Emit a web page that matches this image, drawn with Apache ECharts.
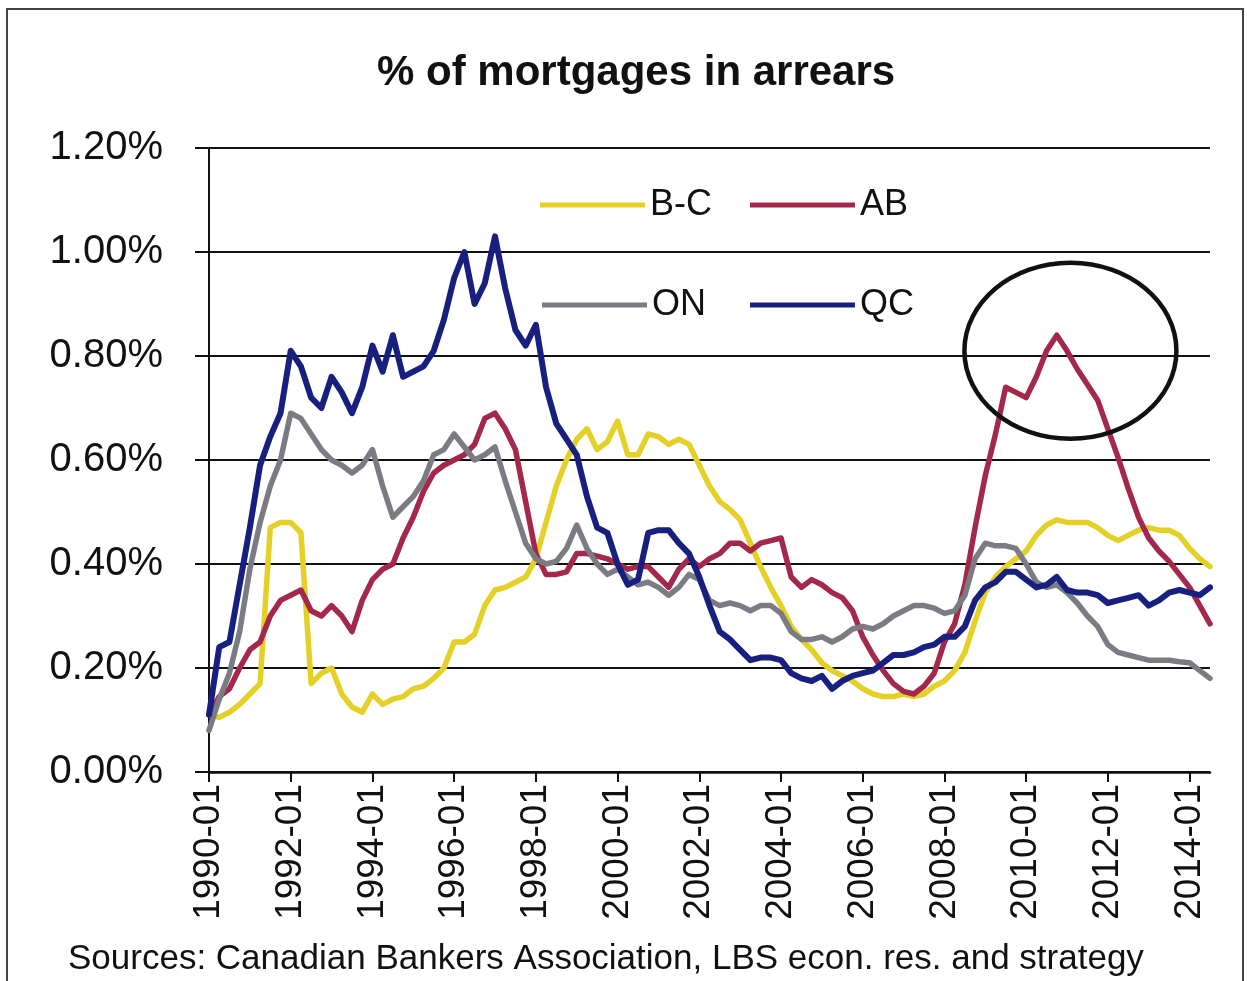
<!DOCTYPE html>
<html>
<head>
<meta charset="utf-8">
<title>% of mortgages in arrears</title>
<script src="https://cdn.jsdelivr.net/npm/echarts@6/dist/echarts.min.js"></script>
<style>
  html, body { margin: 0; padding: 0; background: #ffffff; }
  #chart { width: 1247px; height: 981px; }
</style>
</head>
<body>
<div id="chart"></div>
<script>
// Monthly axis 1990-01 .. 2014-07; series sampled quarterly (every 3rd month)
const firstYear = 1990;
const lastMonthLabel = '2014-07';
const sampleStep = 3;

const seriesNames = ['B-C', 'AB', 'ON', 'QC'];
const seriesColors = ['#e4d027', '#a3284c', '#7b7b84', '#17207f'];
const seriesWidths = [5.5, 5.5, 5.5, 6];

// % of mortgages in arrears, quarterly samples from 1990-01
const bcValues = [
  0.11, 0.105, 0.115, 0.13, 0.15, 0.17, 0.47, 0.48, 0.48, 0.46,
  0.17, 0.19, 0.20, 0.15, 0.125, 0.115, 0.15, 0.13, 0.14, 0.145,
  0.16, 0.165, 0.18, 0.20, 0.25, 0.25, 0.265, 0.32, 0.35, 0.355,
  0.365, 0.375, 0.41, 0.48, 0.55, 0.60, 0.64, 0.66, 0.62, 0.635,
  0.675, 0.61, 0.61, 0.65, 0.645, 0.63, 0.64, 0.63, 0.59, 0.55,
  0.52, 0.505, 0.485, 0.44, 0.395, 0.355, 0.32, 0.28, 0.255, 0.235,
  0.21, 0.195, 0.185, 0.175, 0.16, 0.15, 0.145, 0.145, 0.15, 0.145,
  0.15, 0.165, 0.175, 0.195, 0.23, 0.29, 0.345, 0.375, 0.395, 0.41,
  0.425, 0.455, 0.475, 0.485, 0.48, 0.48, 0.48, 0.47, 0.455, 0.445,
  0.455, 0.465, 0.47, 0.465, 0.465, 0.455, 0.43, 0.41, 0.395
];
const abValues = [
  0.11, 0.145, 0.16, 0.20, 0.235, 0.25, 0.30, 0.33, 0.34, 0.35,
  0.31, 0.30, 0.32, 0.30, 0.27, 0.33, 0.37, 0.39, 0.40, 0.45,
  0.49, 0.54, 0.575, 0.59, 0.60, 0.61, 0.63, 0.68, 0.69, 0.66,
  0.62, 0.52, 0.42, 0.38, 0.38, 0.385, 0.42, 0.42, 0.415, 0.41,
  0.40, 0.39, 0.395, 0.395, 0.375, 0.355, 0.39, 0.41, 0.395, 0.41,
  0.42, 0.44, 0.44, 0.425, 0.44, 0.445, 0.45, 0.375, 0.355, 0.37,
  0.36, 0.345, 0.335, 0.31, 0.26, 0.225, 0.195, 0.17, 0.155, 0.15,
  0.165, 0.19, 0.25, 0.285, 0.36, 0.47, 0.57, 0.65, 0.74, 0.73,
  0.72, 0.76, 0.81, 0.84, 0.81, 0.775, 0.745, 0.715, 0.66, 0.605,
  0.545, 0.49, 0.45, 0.425, 0.405, 0.38, 0.355, 0.32, 0.285
];
const onValues = [
  0.08, 0.14, 0.19, 0.27, 0.39, 0.48, 0.55, 0.60, 0.69, 0.68,
  0.65, 0.62, 0.60, 0.59, 0.575, 0.59, 0.62, 0.55, 0.49, 0.51,
  0.53, 0.56, 0.61, 0.62, 0.65, 0.625, 0.60, 0.61, 0.625, 0.56,
  0.50, 0.44, 0.41, 0.40, 0.405, 0.43, 0.475, 0.43, 0.40, 0.38,
  0.39, 0.375, 0.36, 0.365, 0.355, 0.34, 0.355, 0.38, 0.37, 0.33,
  0.32, 0.325, 0.32, 0.31, 0.32, 0.32, 0.305, 0.27, 0.255, 0.255,
  0.26, 0.25, 0.26, 0.275, 0.28, 0.275, 0.285, 0.30, 0.31, 0.32,
  0.32, 0.315, 0.305, 0.31, 0.34, 0.41, 0.44, 0.435, 0.435, 0.43,
  0.40, 0.365, 0.355, 0.36, 0.345, 0.325, 0.30, 0.28, 0.245, 0.23,
  0.225, 0.22, 0.215, 0.215, 0.215, 0.212, 0.21, 0.195, 0.18
];
const qcValues = [
  0.11, 0.24, 0.25, 0.36, 0.47, 0.59, 0.645, 0.69, 0.81, 0.78,
  0.72, 0.70, 0.76, 0.73, 0.69, 0.74, 0.82, 0.77, 0.84, 0.76,
  0.77, 0.78, 0.81, 0.87, 0.95, 1.00, 0.90, 0.94, 1.03, 0.93,
  0.85, 0.82, 0.86, 0.74, 0.67, 0.64, 0.61, 0.53, 0.47, 0.46,
  0.40, 0.36, 0.37, 0.46, 0.465, 0.465, 0.44, 0.42, 0.375, 0.32,
  0.27, 0.255, 0.235, 0.215, 0.22, 0.22, 0.215, 0.19, 0.18, 0.175,
  0.185, 0.16, 0.175, 0.185, 0.19, 0.195, 0.21, 0.225, 0.225, 0.23,
  0.24, 0.245, 0.26, 0.26, 0.28, 0.33, 0.355, 0.365, 0.385, 0.385,
  0.37, 0.355, 0.36, 0.375, 0.35, 0.345, 0.345, 0.34, 0.325, 0.33,
  0.335, 0.34, 0.32, 0.33, 0.345, 0.35, 0.345, 0.34, 0.355
];

const yTicks = [0, 0.2, 0.4, 0.6, 0.8, 1.0, 1.2];

// month categories
const months = [];
for (let y = firstYear; ; y++) {
  let done = false;
  for (let m = 1; m <= 12; m++) {
    const label = y + '-' + (m < 10 ? '0' + m : m);
    months.push(label);
    if (label === lastMonthLabel) { done = true; break; }
  }
  if (done) break;
}

// spread quarterly samples over the monthly category axis
function toMonthly(values) {
  const out = new Array(months.length).fill(null);
  values.forEach((v, i) => { out[i * sampleStep] = v; });
  return out;
}

const allValues = [bcValues, abValues, onValues, qcValues];
const FONT = '"Liberation Sans", Arial, sans-serif';

const chart = echarts.init(document.getElementById('chart'), null, { renderer: 'canvas' });

const legendPos = [
  { left: 535, top: 182 },
  { left: 745, top: 182 },
  { left: 537, top: 282 },
  { left: 745, top: 282 }
];

const frame = {
  type: 'rect',
  shape: { x: 7, y: 9, width: 1236, height: 1000 },
  style: { fill: 'none', stroke: '#444', lineWidth: 2 },
  silent: true
};
const sourceNote = {
  type: 'text',
  left: 68,
  top: 942,
  style: {
    text: 'Sources: Canadian Bankers Association, LBS econ. res. and strategy',
    font: '35px ' + FONT,
    fill: '#111'
  }
};

const option = {
  backgroundColor: '#ffffff',
  animation: false,
  title: {
    text: '% of mortgages in arrears',
    left: 372,
    top: 47,
    textStyle: { fontFamily: FONT, fontSize: 42, fontWeight: 'bold', color: '#111' }
  },
  legend: seriesNames.map((name, i) => ({
    data: [name],
    left: legendPos[i].left,
    top: legendPos[i].top,
    icon: 'rect',
    itemWidth: 105,
    itemHeight: 5,
    selectedMode: false,
    textStyle: { fontFamily: FONT, fontSize: 36, color: '#111' }
  })),
  grid: { left: 209, right: 37, top: 148, bottom: 209, containLabel: false },
  xAxis: {
    type: 'category',
    data: months,
    boundaryGap: false,
    axisLine: { lineStyle: { color: '#111', width: 2.5 } },
    axisTick: {
      interval: (idx) => idx % 24 === 0,
      length: 10,
      lineStyle: { color: '#111', width: 2 }
    },
    axisLabel: {
      interval: (idx) => idx % 24 === 0,
      rotate: 90,
      margin: 12,
      fontFamily: FONT,
      fontSize: 37,
      color: '#111'
    },
    splitLine: { show: false }
  },
  yAxis: {
    type: 'value',
    min: yTicks[0],
    max: yTicks[yTicks.length - 1],
    interval: 0.2,
    axisLine: { show: true, lineStyle: { color: '#111', width: 2 } },
    axisTick: { show: true, length: 14, lineStyle: { color: '#111', width: 2 } },
    axisLabel: {
      margin: 46,
      fontFamily: FONT,
      fontSize: 40,
      color: '#111',
      formatter: (v) => v.toFixed(2) + '%'
    },
    splitLine: { show: true, lineStyle: { color: '#111', width: 1.8 } }
  },
  series: seriesNames.map((name, i) => ({
    name: name,
    type: 'line',
    data: toMonthly(allValues[i]),
    connectNulls: true,
    showSymbol: false,
    symbol: 'none',
    color: seriesColors[i],
    lineStyle: { width: seriesWidths[i], color: seriesColors[i], join: 'round', cap: 'round' },
    z: 2 + i
  })),
  graphic: [frame, sourceNote]
};

chart.setOption(option);

// ring drawn around the Alberta peak (centre in data coordinates)
const ringCenter = chart.convertToPixel({ gridIndex: 0 }, ['2011-02', 0.81]);
chart.setOption({
  graphic: [
    frame,
    sourceNote,
    {
      type: 'ellipse',
      shape: { cx: ringCenter[0], cy: ringCenter[1], rx: 106, ry: 88 },
      style: { fill: 'none', stroke: '#111', lineWidth: 4.5 },
      z: 10,
      silent: true
    }
  ]
}, { replaceMerge: ['graphic'] });
</script>
</body>
</html>
